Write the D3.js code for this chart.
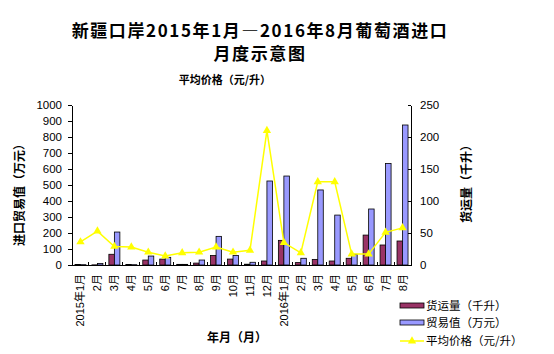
<!DOCTYPE html>
<html lang="zh">
<head>
    <meta charset="UTF-8">
    <script src="https://cdnjs.cloudflare.com/ajax/libs/d3/7.8.5/d3.min.js"></script>
    <style>
        body { margin: 0; background: #fff; }
        svg { display: block; }
        text {
            font-family: "Liberation Sans", "Noto Sans CJK SC", sans-serif;
            fill: #000;
        }
        .cjk { font-family: "Noto Sans CJK SC", sans-serif; }
        .title { font-size: 17px; font-weight: bold; text-anchor: middle; letter-spacing: 1.6px; }
        .axis-title { font-size: 12px; font-weight: bold; text-anchor: middle; }
        .tick text { font-size: 11.5px; }
        .axis path, .axis line { stroke: #000; stroke-width: 1px; shape-rendering: crispEdges; }
        .bar { stroke: #000; stroke-width: 0.8px; }
        .xlabel { font-size: 11px; }
        .legend text { font-size: 11.5px; }
    </style>
</head>
<body>
<svg id="chart" width="554" height="354"></svg>
<script>
    const months = ["2015年1月", "2月", "3月", "4月", "5月", "6月", "7月", "8月", "9月", "10月", "11月", "12月",
        "2016年1月", "2月", "3月", "4月", "5月", "6月", "7月", "8月"];
    // 货运量（千升）
    const volume = [3, 1, 67, 3, 31, 37, 4, 12, 60, 37, 5, 25, 154, 15, 35, 25, 42, 187, 125, 150];
    // 贸易值（万元）
    const tradeValue = [2, 10, 206, 2, 56, 48, 4, 31, 179, 60, 17, 525, 556, 42, 469, 312, 67, 350, 635, 875];
    // 平均价格（元/升）
    const avgPrice = [36, 53, 29, 28, 20, 14, 19, 20, 28, 20, 23, 210, 35, 19, 130, 130, 17, 17, 51, 58];

    const leftTicks = d3.range(0, 1001, 100);
    const rightTicks = d3.range(0, 251, 50);

    const seriesNames = ["货运量（千升）", "贸易值（万元）", "平均价格（元/升）"];
    const barColors = ["#993366", "#9999FF"];
    const lineColor = "#FFFF00";

    const svg = d3.select("#chart");
    const plot = {left: 72, right: 411, top: 105, bottom: 265};

    const x0 = d3.scaleBand()
        .domain(d3.range(months.length))
        .range([plot.left, plot.right])
        .padding(0);

    const x1 = d3.scaleBand()
        .domain([0, 1])
        .range([0, x0.bandwidth()])
        .paddingInner(0)
        .paddingOuter(0.54);

    const yLeft = d3.scaleLinear().domain([0, 1000]).range([plot.bottom, plot.top]);
    const yRight = d3.scaleLinear().domain([0, 250]).range([plot.bottom, plot.top]);

    // titles
    svg.append("text").attr("class", "title cjk")
        .attr("x", 260).attr("y", 37)
        .text("新疆口岸2015年1月—2016年8月葡萄酒进口");
    svg.append("text").attr("class", "title cjk")
        .attr("x", 260).attr("y", 60)
        .text("月度示意图");
    svg.append("text").attr("class", "axis-title cjk")
        .attr("x", 225).attr("y", 84)
        .style("font-size", "11px")
        .text("平均价格（元/升）");

    // bars
    const barData = months.map((m, i) => [volume[i], tradeValue[i]]);
    const groups = svg.append("g")
        .selectAll("g")
        .data(barData)
        .join("g")
        .attr("transform", (d, i) => `translate(${x0(i)},0)`);

    groups.selectAll("rect")
        .data(d => d)
        .join("rect")
        .attr("class", "bar")
        .attr("x", (d, j) => x1(j))
        .attr("width", x1.bandwidth())
        .attr("y", d => yLeft(d))
        .attr("height", d => plot.bottom - yLeft(d))
        .attr("fill", (d, j) => barColors[j]);

    // axes
    svg.append("g").attr("class", "axis")
        .attr("transform", `translate(${plot.left},0)`)
        .call(d3.axisLeft(yLeft).tickValues(leftTicks).tickFormat(d3.format("d"))
            .tickSize(4).tickSizeOuter(0).tickPadding(6));

    svg.append("g").attr("class", "axis")
        .attr("transform", `translate(${plot.right},0)`)
        .call(d3.axisRight(yRight).tickValues(rightTicks).tickSize(-3).tickSizeOuter(0).tickPadding(9));

    const xAxis = svg.append("g").attr("class", "axis");
    xAxis.append("line")
        .attr("x1", plot.left).attr("x2", plot.right)
        .attr("y1", plot.bottom).attr("y2", plot.bottom);
    xAxis.selectAll("line.xt")
        .data(d3.range(1, months.length))
        .join("line")
        .attr("class", "xt")
        .attr("x1", d => x0(d)).attr("x2", d => x0(d))
        .attr("y1", plot.bottom).attr("y2", plot.bottom - 3);

    svg.append("g").selectAll("text")
        .data(months)
        .join("text")
        .attr("class", "xlabel")
        .attr("transform", (d, i) => `translate(${x0(i) + x0.bandwidth() / 2 + 4},${plot.bottom + 9}) rotate(-90)`)
        .attr("text-anchor", "end")
        .text(d => d);

    // price line
    const lineGen = d3.line()
        .x((d, i) => x0(i) + x0.bandwidth() / 2)
        .y(d => yRight(d));

    svg.append("path")
        .datum(avgPrice)
        .attr("fill", "none")
        .attr("stroke", lineColor)
        .attr("stroke-width", 1.5)
        .attr("d", lineGen);

    const tri = d3.symbol().type(d3.symbolTriangle).size(30);
    svg.append("g").selectAll("path")
        .data(avgPrice)
        .join("path")
        .attr("d", tri)
        .attr("fill", lineColor)
        .attr("transform", (d, i) => `translate(${x0(i) + x0.bandwidth() / 2},${yRight(d)})`);

    // axis titles
    svg.append("text").attr("class", "axis-title cjk")
        .attr("transform", "translate(24,192) rotate(-90)")
        .text("进口贸易值（万元）");
    svg.append("text").attr("class", "axis-title cjk")
        .attr("transform", "translate(471,181) rotate(-90)")
        .text("货运量（千升）");
    svg.append("text").attr("class", "axis-title cjk")
        .attr("x", 237).attr("y", 342)
        .text("年月（月）");

    // legend
    const legend = svg.append("g").attr("class", "legend");
    const ly = [305.5, 322.5, 341];
    [0, 1].forEach(j => {
        legend.append("rect")
            .attr("x", 400).attr("y", ly[j] - 2.5)
            .attr("width", 24).attr("height", 5)
            .attr("fill", barColors[j]).attr("stroke", "#000").attr("stroke-width", 0.8);
    });
    legend.append("line")
        .attr("x1", 400).attr("x2", 424).attr("y1", ly[2]).attr("y2", ly[2])
        .attr("stroke", lineColor).attr("stroke-width", 1.5);
    legend.append("path").attr("d", tri).attr("fill", lineColor)
        .attr("transform", `translate(412,${ly[2]})`);
    legend.selectAll("text.lt")
        .data(seriesNames)
        .join("text")
        .attr("class", "lt cjk")
        .attr("x", 426)
        .attr("y", (d, i) => ly[i])
        .attr("dy", "0.36em")
        .text(d => d);
</script>
</body>
</html>
